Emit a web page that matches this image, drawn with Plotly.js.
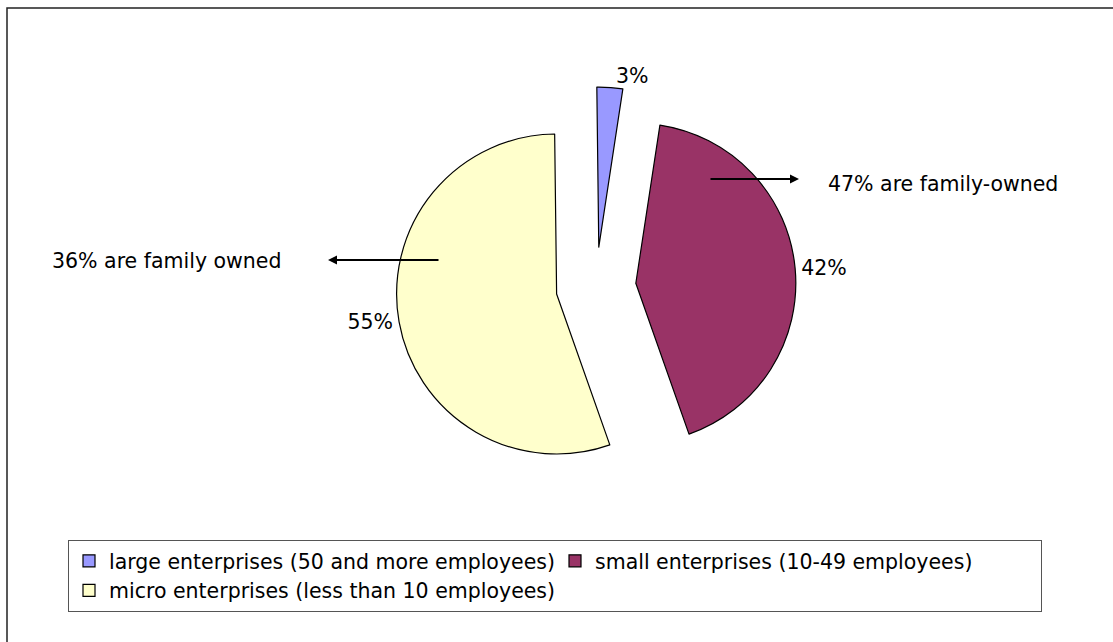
<!DOCTYPE html>
<html>
<head>
<meta charset="utf-8">
<script src="https://cdn.plot.ly/plotly-3.0.1.min.js"></script>
<style>html,body{margin:0;padding:0;background:#fff;}#chart{width:1113px;height:642px;}</style>
</head>
<body>
<div id="chart"></div>
<script>
// ---- data ----
const categories = [
  'large enterprises (50 and more employees)',
  'small enterprises (10-49 employees)',
  'micro enterprises (less than 10 employees)'
];
const shares = [2.6, 42.2, 55.2];
const sliceColors = ['#9999FF', '#993366', '#FFFFCC'];
const familyOwnedSmall = '47% are family-owned';
const familyOwnedMicro = '36% are family owned';

const W = 1113, H = 642;
const px = x => x / W;
const py = y => 1 - y / H;
const FS = 20.5;

const trace = {
  type: 'pie',
  labels: categories,
  values: shares,
  sort: false,
  direction: 'clockwise',
  rotation: -0.7,
  pull: [0.25, 0.25, 0.25],
  marker: {colors: sliceColors, line: {color: '#000000', width: 1.2}},
  texttemplate: '%{percent:.0%}',
  textposition: 'outside',
  textfont: {family: 'DejaVu Sans', size: FS, color: '#000000'},
  hoverinfo: 'none',
  domain: {x: [px(596 - 320), px(596 + 320)], y: [py(287 + 200), py(287 - 200)]},
  automargin: false
};

const layout = {
  width: W, height: H,
  margin: {l: 0, r: 0, t: 0, b: 0},
  paper_bgcolor: '#ffffff',
  font: {family: 'DejaVu Sans', size: FS, color: '#000000'},
  showlegend: true,
  legend: {
    orientation: 'h',
    x: px(68), xanchor: 'left',
    y: py(540), yanchor: 'top',
    bordercolor: '#555555', borderwidth: 1,
    bgcolor: '#ffffff',
    font: {family: 'DejaVu Sans', size: FS, color: '#000000'},
    traceorder: 'normal',
    entrywidth: 441
  },
  shapes: [
    {type: 'rect', xref: 'paper', yref: 'paper',
     x0: px(7), x1: 1.05, y0: -0.05, y1: py(8),
     line: {color: '#222222', width: 1.5}, fillcolor: 'rgba(0,0,0,0)'}
  ],
  annotations: [
    {xref: 'paper', yref: 'paper', x: px(799), y: py(179), ax: -90, ay: 0,
     text: '', showarrow: true, arrowhead: 2, arrowsize: 0.9, arrowwidth: 2, arrowcolor: '#000000'},
    {xref: 'paper', yref: 'paper', x: px(328), y: py(260), ax: 112, ay: 0,
     text: '', showarrow: true, arrowhead: 2, arrowsize: 0.9, arrowwidth: 2, arrowcolor: '#000000'},
    {xref: 'paper', yref: 'paper', x: px(826), y: py(184), xanchor: 'left', yanchor: 'middle',
     text: familyOwnedSmall, showarrow: false, font: {family: 'DejaVu Sans', size: FS, color: '#000000'}},
    {xref: 'paper', yref: 'paper', x: px(50), y: py(261), xanchor: 'left', yanchor: 'middle',
     text: familyOwnedMicro, showarrow: false, font: {family: 'DejaVu Sans', size: FS, color: '#000000'}}
  ]
};

Plotly.newPlot('chart', [trace], layout, {staticPlot: true, displayModeBar: false});
</script>
</body>
</html>
